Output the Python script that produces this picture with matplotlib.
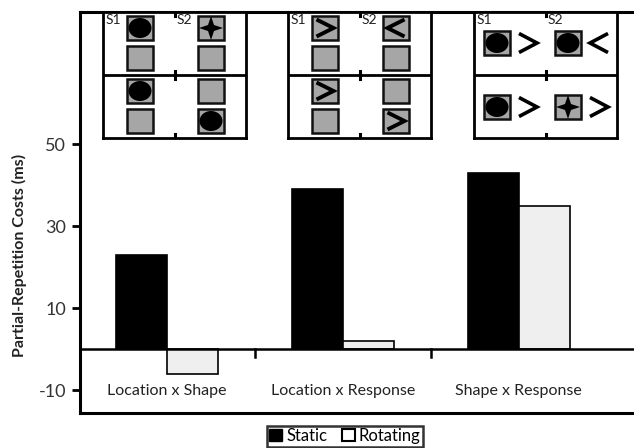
import numpy as np
import matplotlib.pyplot as plt
from matplotlib.patches import Rectangle, Ellipse, Polygon

plt.rcParams['font.family'] = ['Lato', 'DejaVu Sans']
plt.rcParams['axes.unicode_minus'] = False

categories = ['Location x Shape', 'Location x Response', 'Shape x Response']
static = [23, 39, 43]
rotating = [-6, 2, 35]
yticks = [-10, 10, 30, 50]
legend_labels = ['Static', 'Rotating']

# icon contents of the three inset panels (S1 column, S2 column; top & bottom squares)
panel_stack = {
    0: [[['circle', 'empty'], ['star', 'empty']],
        [['circle', 'empty'], ['empty', 'circle']]],
    1: [[['>', 'empty'], ['<', 'empty']],
        [['>', 'empty'], ['empty', '>']]],
}
panel_pair = [[('circle', '>'), ('circle', '<')],
              [('circle', '>'), ('star', '>')]]

W, H = 634, 448
fig = plt.figure(figsize=(W / 100, H / 100), dpi=100)
ax = fig.add_axes([80 / W, 35 / H, 554 / W, 401 / H])

x = np.arange(len(categories))
bw = 0.29
ax.bar(x - bw / 2, static, bw, color='black', edgecolor='black', lw=1.2, zorder=3)
ax.bar(x + bw / 2, rotating, bw, color='#efefef', edgecolor='black', lw=1.2, zorder=3)
ax.axhline(0, color='black', lw=1.8, zorder=4)
for b in x[:-1] + 0.5:
    ax.plot([b, b], [0, -2], color='black', lw=1.8, zorder=4)
for i, c in enumerate(categories):
    ax.text(i, -10.3, c, ha='center', va='center', fontsize=11.5, color='#222222')

ax.set_xlim(-0.495, 2.655)
ax.set_ylim(-15.6, 82.2)
ax.set_yticks(yticks)
ax.set_xticks([])
ax.tick_params(axis='y', direction='out', length=6, width=2, labelsize=13,
               labelcolor='#333333', pad=4)
for s in ['left', 'bottom', 'top']:
    ax.spines[s].set_linewidth(2.2)
ax.spines['right'].set_visible(False)

fig.text(19 / W, 1 - 255 / H, 'Partial-Repetition Costs (ms)', rotation=90,
         ha='center', va='center', fontsize=11.5, fontweight='bold', color='#222222')

h1 = Rectangle((0, 0), 1, 1, facecolor='black', edgecolor='black')
h2 = Rectangle((0, 0), 1, 1, facecolor='white', edgecolor='black', lw=1.5)
leg = fig.legend([h1, h2], legend_labels, loc='center', bbox_to_anchor=(345 / W, 1 - 436 / H),
                 ncol=2, fontsize=12, frameon=True, fancybox=False, edgecolor='black',
                 handlelength=0.75, handleheight=0.75, handletextpad=0.25,
                 columnspacing=0.9, borderpad=0.15, borderaxespad=0)
leg.get_frame().set_linewidth(1.8)

GRAY = '#a6a6a6'


def square(pa, cx, cy, kind):
    pa.add_patch(Rectangle((cx - 13, cy - 12), 26, 24, facecolor=GRAY,
                           edgecolor='#111111', lw=1.8))
    if kind == 'circle':
        pa.add_patch(Ellipse((cx, cy), 23, 20, facecolor='black'))
    elif kind == 'star':
        r, w = 12, 3
        pts = [(cx, cy - r), (cx + w, cy - w), (cx + r, cy), (cx + w, cy + w),
               (cx, cy + r), (cx - w, cy + w), (cx - r, cy), (cx - w, cy - w)]
        pa.add_patch(Polygon(pts, closed=True, facecolor='black'))
    elif kind in ('>', '<'):
        chevron(pa, cx, cy, kind, 8.5, 8.5, lw=2.8)


def chevron(pa, cx, cy, kind, hw, hh, lw=3):
    if kind == '>':
        xs = [cx - hw, cx + hw, cx - hw]
    else:
        xs = [cx + hw, cx - hw, cx + hw]
    pa.plot(xs, [cy - hh, cy, cy + hh], color='black', lw=lw,
            solid_joinstyle='miter', solid_capstyle='butt')


lefts = [103, 288, 474]
for p, left in enumerate(lefts):
    pa = fig.add_axes([left / W, 1 - 138 / H, 143 / W, 126 / H])
    pa.set_xlim(0, 143)
    pa.set_ylim(126, 0)
    pa.set_xticks([])
    pa.set_yticks([])
    for s in pa.spines.values():
        s.set_linewidth(2)
    pa.axhline(63, color='black', lw=2)
    for ty in [0, 63, 126]:
        pa.plot([72, 72], [ty - 4, ty + 4], color='black', lw=2.2)
    pa.text(3, 2, 'S1', fontsize=10, va='top', ha='left', color='#222222')
    pa.text(74, 2, 'S2', fontsize=10, va='top', ha='left', color='#222222')
    if p in panel_stack:
        for half, rows in enumerate(panel_stack[p]):
            for col, kinds in enumerate(rows):
                cx = 37 + 71 * col
                for k, kind in enumerate(kinds):
                    square(pa, cx, 16 + 63 * half + 30 * k, kind)
    else:
        for half, row in enumerate(panel_pair):
            cy = 31 + 64 * half
            for col, (kind, arrow) in enumerate(row):
                cx = 23 + 71 * col
                square(pa, cx, cy, kind)
                chevron(pa, cx + 31, cy, arrow, 9, 9.5, lw=2.6)

fig.savefig('out.png', dpi=100)
